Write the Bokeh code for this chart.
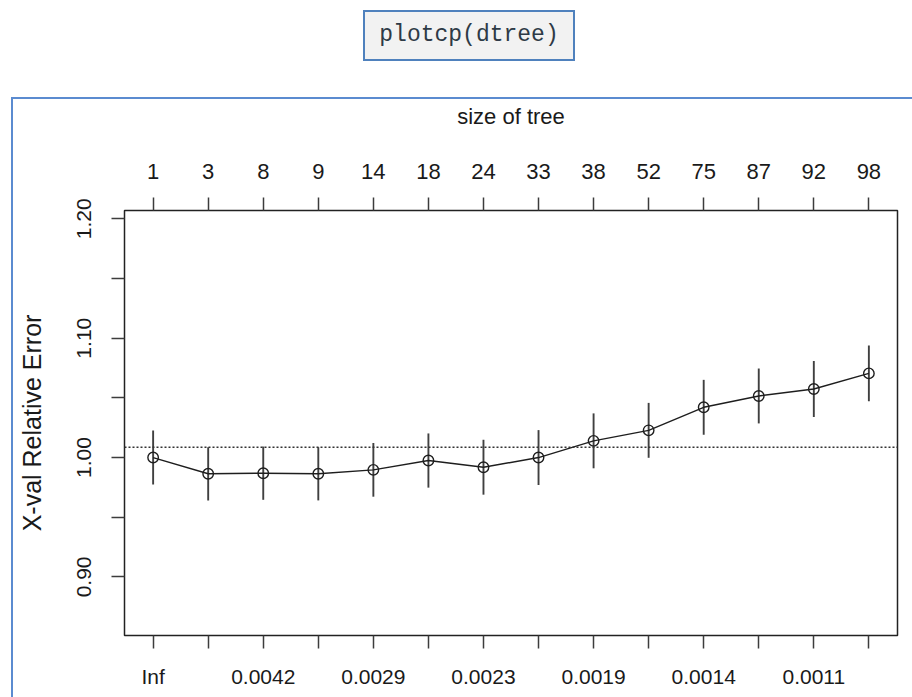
import numpy as np
from bokeh.plotting import figure
from bokeh.layouts import column, row
from bokeh.models import (Range1d, LinearAxis, FixedTicker, PrintfTickFormatter,
                          Span, Div)
from bokeh.embed import file_html
from bokeh.resources import INLINE

# ---- data -------------------------------------------------------------
tree_sizes = [1, 3, 8, 9, 14, 18, 24, 33, 38, 52, 75, 87, 92, 98]
cp_labels = ["Inf", "0.0042", "0.0029", "0.0023", "0.0019", "0.0014", "0.0011"]
xerror = [1.000, 0.9864, 0.9869, 0.9864, 0.9897, 0.9975, 0.9919,
          1.000, 1.0140, 1.0228, 1.0421, 1.0516, 1.0574, 1.0705]
xstd = [0.0226, 0.0223, 0.0223, 0.0223, 0.0225, 0.0227, 0.0230,
        0.0230, 0.0230, 0.0230, 0.0230, 0.0230, 0.0235, 0.0233]
y_major = [0.90, 1.00, 1.10, 1.20]
y_minor = [0.95, 1.05, 1.15]
code_text = "plotcp(dtree)"

# ---- derived -----------------------------------------------------------
n = len(tree_sizes)
xs = list(range(1, n + 1))
err = np.array(xerror)
sd = np.array(xstd)
lo = err - sd
hi = err + sd
imin = int(np.argmin(err))
threshold = float(err[imin] + sd[imin])

ylo, yhi = lo.min() - 0.1, hi.max() + 0.1
ypad = 0.04 * (yhi - ylo)
xpad = 0.04 * (n - 1)

FONT = "Liberation Sans"
TXT = "#1a1a1a"
TICK = "#3c3c3c"
FRAME_BLUE = "#5b8bd0"

p = figure(width=899, height=598, output_backend="svg", toolbar_location=None,
           x_range=Range1d(1 - xpad, n + xpad),
           y_range=Range1d(ylo - ypad, yhi + ypad),
           min_border_left=111, min_border_right=15,
           min_border_top=111, min_border_bottom=62,
           background_fill_color="white", border_fill_color="white")
p.grid.visible = False
p.outline_line_color = "#222222"
p.outline_line_width = 1.5


def style_axis(ax, fs="21px", lfs="22px"):
    ax.axis_line_color = None
    ax.major_tick_line_color = TICK
    ax.minor_tick_line_color = TICK
    ax.major_tick_line_width = 1.5
    ax.minor_tick_line_width = 1.5
    ax.major_tick_out = 13
    ax.major_tick_in = 0
    ax.minor_tick_out = 13
    ax.minor_tick_in = 0
    ax.major_label_text_font = FONT
    ax.major_label_text_font_size = fs
    ax.major_label_text_color = TXT
    ax.axis_label_text_font = FONT
    ax.axis_label_text_font_size = lfs
    ax.axis_label_text_font_style = "normal"
    ax.axis_label_text_color = TXT


# bottom axis: cp values
cp_pos = xs[::2]
bx = p.xaxis[0]
bx.ticker = FixedTicker(ticks=cp_pos, minor_ticks=xs[1::2])
bx.major_label_overrides = {pos: lab for pos, lab in zip(cp_pos, cp_labels)}
style_axis(bx)
bx.major_label_standoff = 16

# left axis
ly = p.yaxis[0]
ly.ticker = FixedTicker(ticks=y_major, minor_ticks=y_minor)
ly.formatter = PrintfTickFormatter(format="%.2f")
ly.axis_label = "X-val Relative Error"
ly.major_label_orientation = "vertical"
style_axis(ly, fs="21px", lfs="25px")
ly.major_label_standoff = 20
ly.axis_label_standoff = 29

# top axis: size of tree
top = LinearAxis(ticker=FixedTicker(ticks=xs, minor_ticks=[]),
                 axis_label="size of tree")
top.major_label_overrides = {x: str(s) for x, s in zip(xs, tree_sizes)}
style_axis(top, fs="22px", lfs="22px")
top.major_label_standoff = 19
top.axis_label_standoff = 32
p.add_layout(top, "above")

# dotted reference line (min + 1 SE)
p.add_layout(Span(location=threshold, dimension="width", line_color="#333333",
                  line_width=1.5, line_dash="2 2"))

# error bars, line, points
p.segment(x0=xs, y0=lo.tolist(), x1=xs, y1=hi.tolist(),
          line_color="#404040", line_width=1.9)
p.line(xs, xerror, line_color="#1e1e1e", line_width=1.4)
p.scatter(xs, xerror, marker="circle", size=10.5, fill_color=None,
          line_color="#1e1e1e", line_width=1.4)

# ---- surrounding document decorations (code box + blue frame) ----------
top_html = (
    '<div style="position:relative;width:912px;height:99px;">'
    '<div style="position:absolute;left:363px;top:10px;width:212px;height:51px;'
    'box-sizing:border-box;border:2px solid #4f81bd;background:#f2f2f2;'
    "font-family:'Liberation Mono',monospace;font-size:23px;color:#2e3a46;"
    'display:flex;align-items:center;justify-content:center;">'
    + code_text +
    '</div>'
    '<div style="position:absolute;left:11px;top:97px;width:901px;height:2px;'
    'background:' + FRAME_BLUE + ';"></div>'
    '</div>'
)
left_html = (
    '<div style="position:relative;width:13px;height:598px;">'
    '<div style="position:absolute;left:11px;top:0px;width:2px;height:598px;'
    'background:' + FRAME_BLUE + ';"></div></div>'
)
top_div = Div(text=top_html, width=912, height=99, margin=0)
left_div = Div(text=left_html, width=13, height=598, margin=0)
p.margin = 0

layout = column(top_div, row(left_div, p, spacing=0), spacing=0)

open("out.html", "w").write(file_html(layout, INLINE))
